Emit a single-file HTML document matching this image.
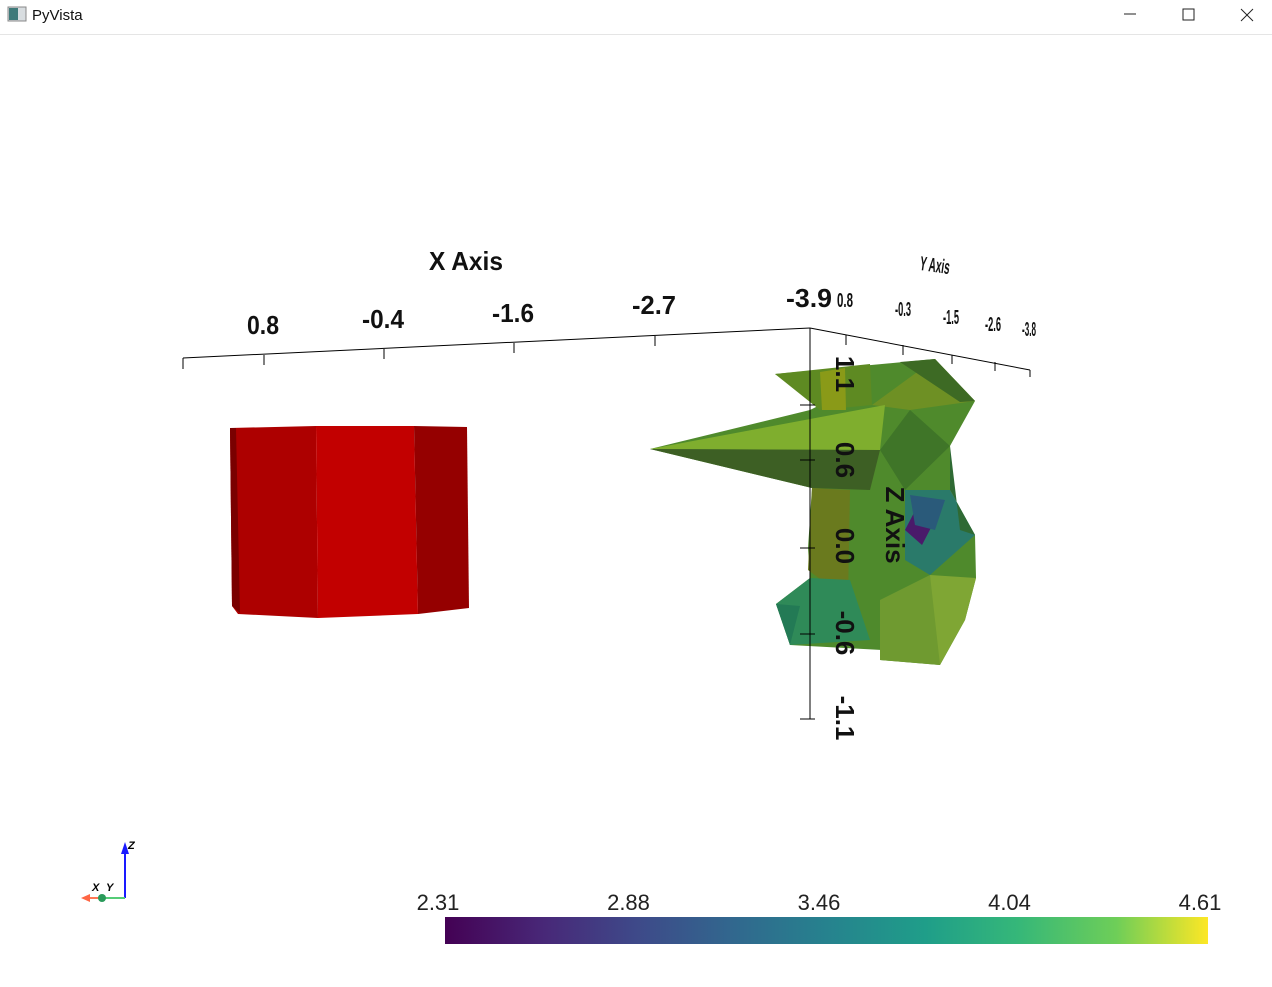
<!DOCTYPE html>
<html><head><meta charset="utf-8">
<style>
html,body{margin:0;padding:0;background:#fff;width:1272px;height:987px;overflow:hidden;font-family:"Liberation Sans",sans-serif}
#titlebar{position:absolute;left:0;top:0;width:1272px;height:34px;border-bottom:1px solid #e5e5e5;background:#fff}
svg{position:absolute;left:0;top:0}
</style></head>
<body>
<div id="titlebar"></div>
<svg width="1272" height="987">
  <!-- title bar -->
  <g>
    <rect x="8" y="7" width="18" height="14" fill="#d8dde0" stroke="#888" stroke-width="1"/>
    <rect x="9" y="8" width="9" height="12" fill="#3f7a7a"/>
  </g>
  <text x="32" y="20" font-size="15" fill="#111">PyVista</text>
  <line x1="1124" y1="14" x2="1136" y2="14" stroke="#222"/>
  <rect x="1183" y="9" width="11" height="11" fill="none" stroke="#222"/>
  <g><line x1="1241" y1="9" x2="1253" y2="21" stroke="#222"/><line x1="1253" y1="9" x2="1241" y2="21" stroke="#222"/></g>

  <!-- red cylinder -->
  <g>
    <polygon points="230,428 316,426 318,618 238,614 232,606" fill="#ad0000"/>
    <polygon points="316,426 414,426 418,614 318,618" fill="#c20000"/>
    <polygon points="414,426 467,427 469,608 418,614" fill="#950000"/>
    <polygon points="230,428 236,428 240,613 232,606" fill="#7a0000"/>
  </g>

  <!-- green surface -->
  <g>
    <polygon points="775,374 935,359 975,401 950,446 950,490 975,535 976,578 965,620 940,665 880,660 882,650 790,645 776,604 810,578 808,548 812,488 650,449 810,410 820,405" fill="#4f8a2c"/>
    <polygon points="775,374 870,364 872,405 820,410" fill="#5e8a22"/>
    <polygon points="820,372 845,368 846,410 822,410" fill="#8a9a18"/>
    <polygon points="872,405 935,359 975,401 910,410" fill="#6e9024"/>
    <polygon points="900,362 935,359 975,401 960,402" fill="#3d6a24"/>
    <polygon points="650,449 885,405 880,450" fill="#7fae2e"/>
    <polygon points="650,449 880,450 870,490 812,488" fill="#3d5f24"/>
    <polygon points="812,488 850,490 848,600 808,570" fill="#6a7a1e"/>
    <polygon points="880,450 910,410 950,446 905,490" fill="#3f7528"/>
    <polygon points="905,490 950,490 975,535 930,575 905,560" fill="#2a7a6a"/>
    <polygon points="918,505 935,520 922,545 905,530" fill="#4a1a6a"/>
    <polygon points="910,495 945,500 935,530 915,525" fill="#2a5a7a"/>
    <polygon points="930,575 976,578 965,620 940,665 905,650" fill="#7fa634"/>
    <polygon points="776,604 810,578 850,580 870,640 790,645" fill="#2f8a58"/>
    <polygon points="776,604 800,606 790,645" fill="#237a55"/>
    <polygon points="880,600 930,575 940,665 880,660" fill="#6f9a30"/>
    <polygon points="950,446 950,490 975,535 960,530" fill="#2f6a34"/>
  </g>

  <!-- axes -->
  <g stroke="#000" stroke-width="1" fill="none">
    <line x1="183" y1="358" x2="810" y2="328"/>
    <line x1="183" y1="358" x2="183" y2="369"/>
    <line x1="264" y1="355" x2="264" y2="365"/>
    <line x1="384" y1="349" x2="384" y2="359"/>
    <line x1="514" y1="343" x2="514" y2="353"/>
    <line x1="655" y1="336" x2="655" y2="346"/>
  </g>
  <g font-weight="bold" font-size="26" fill="#111" text-anchor="middle">
    <text x="263" y="334" transform="scale(1,1)" textLength="32" lengthAdjust="spacingAndGlyphs">0.8</text>
    <text x="383" y="328" textLength="42" lengthAdjust="spacingAndGlyphs">-0.4</text>
    <text x="513" y="322" textLength="42" lengthAdjust="spacingAndGlyphs">-1.6</text>
    <text x="654" y="314" textLength="44" lengthAdjust="spacingAndGlyphs">-2.7</text>
    <text x="809" y="307" textLength="46" lengthAdjust="spacingAndGlyphs">-3.9</text>
    <text x="466" y="270" textLength="74" lengthAdjust="spacingAndGlyphs">X Axis</text>
  </g>
  <g stroke="#000" stroke-width="1" fill="none">
    <line x1="810" y1="328" x2="1030" y2="370"/>
    <line x1="846" y1="335" x2="846" y2="345"/>
    <line x1="903" y1="345" x2="903" y2="355"/>
    <line x1="952" y1="355" x2="952" y2="364"/>
    <line x1="995" y1="362" x2="995" y2="371"/>
    <line x1="1030" y1="370" x2="1030" y2="377"/>
  </g>
  <g font-weight="bold" font-size="20" fill="#111" text-anchor="middle">
    <text x="845" y="307" textLength="16" lengthAdjust="spacingAndGlyphs">0.8</text>
    <text x="903" y="316" textLength="16" lengthAdjust="spacingAndGlyphs">-0.3</text>
    <text x="951" y="324" textLength="16" lengthAdjust="spacingAndGlyphs">-1.5</text>
    <text x="993" y="331" textLength="16" lengthAdjust="spacingAndGlyphs">-2.6</text>
    <text x="1029" y="336" textLength="14" lengthAdjust="spacingAndGlyphs">-3.8</text>
    <text x="934" y="272" textLength="30" lengthAdjust="spacingAndGlyphs" transform="rotate(8 934 272)">Y Axis</text>
  </g>
  <g stroke="#000" stroke-width="1" fill="none">
    <line x1="810" y1="328" x2="810" y2="719"/>
    <line x1="800" y1="405" x2="815" y2="405"/>
    <line x1="800" y1="460" x2="815" y2="460"/>
    <line x1="800" y1="548" x2="815" y2="548"/>
    <line x1="800" y1="634" x2="815" y2="634"/>
    <line x1="800" y1="719" x2="815" y2="719"/>
  </g>
  <g font-weight="bold" font-size="26" fill="#111" text-anchor="middle">
    <text transform="translate(836,374) rotate(90)">1.1</text>
    <text transform="translate(836,460) rotate(90)">0.6</text>
    <text transform="translate(836,546) rotate(90)">0.0</text>
    <text transform="translate(836,633) rotate(90)">-0.6</text>
    <text transform="translate(836,718) rotate(90)">-1.1</text>
    <text transform="translate(886,525) rotate(90)">Z Axis</text>
  </g>

  <!-- orientation widget -->
  <g>
    <line x1="125" y1="898" x2="125" y2="850" stroke="#1a1aff" stroke-width="2"/>
    <polygon points="121,854 129,854 125,842" fill="#1a1aff"/>
    <line x1="125" y1="898" x2="100" y2="898" stroke="#55cc77" stroke-width="2"/>
    <line x1="100" y1="898" x2="86" y2="898" stroke="#ff7755" stroke-width="2"/>
    <polygon points="90,894 90,902 81,898" fill="#ff6644"/>
    <circle cx="102" cy="898" r="4" fill="#2a9a5a"/>
    <text x="128" y="849" font-size="11" font-weight="bold" font-style="italic">Z</text>
    <text x="92" y="891" font-size="11" font-weight="bold" font-style="italic">X</text>
    <text x="106" y="891" font-size="11" font-weight="bold" font-style="italic">Y</text>
  </g>

  <!-- colorbar -->
  <defs>
    <linearGradient id="viridis" x1="0" x2="1" y1="0" y2="0">
      <stop offset="0" stop-color="#440154"/>
      <stop offset="0.13" stop-color="#482878"/>
      <stop offset="0.25" stop-color="#3e4989"/>
      <stop offset="0.38" stop-color="#31688e"/>
      <stop offset="0.5" stop-color="#26828e"/>
      <stop offset="0.63" stop-color="#1f9e89"/>
      <stop offset="0.75" stop-color="#35b779"/>
      <stop offset="0.88" stop-color="#6ece58"/>
      <stop offset="1" stop-color="#fde725"/>
    </linearGradient>
  </defs>
  <rect x="445" y="917" width="763" height="27" fill="url(#viridis)"/>
  <g id="cbticks" font-size="22" fill="#222" text-anchor="middle"></g>
</svg>
<script>
const cbTickLabels = ["2.31","2.88","3.46","4.04","4.61"];
const cbTickPositions = [0, 0.25, 0.5, 0.75, 1];
const g = document.getElementById('cbticks');
function cbX(f){ return 438 + f * (1200 - 438); }
cbTickLabels.forEach((lab, i) => {
  const t = document.createElementNS('http://www.w3.org/2000/svg', 'text');
  t.setAttribute('x', cbX(cbTickPositions[i]));
  t.setAttribute('y', 910);
  t.textContent = lab;
  
  
  g.appendChild(t);
});
</script>
</body></html>
